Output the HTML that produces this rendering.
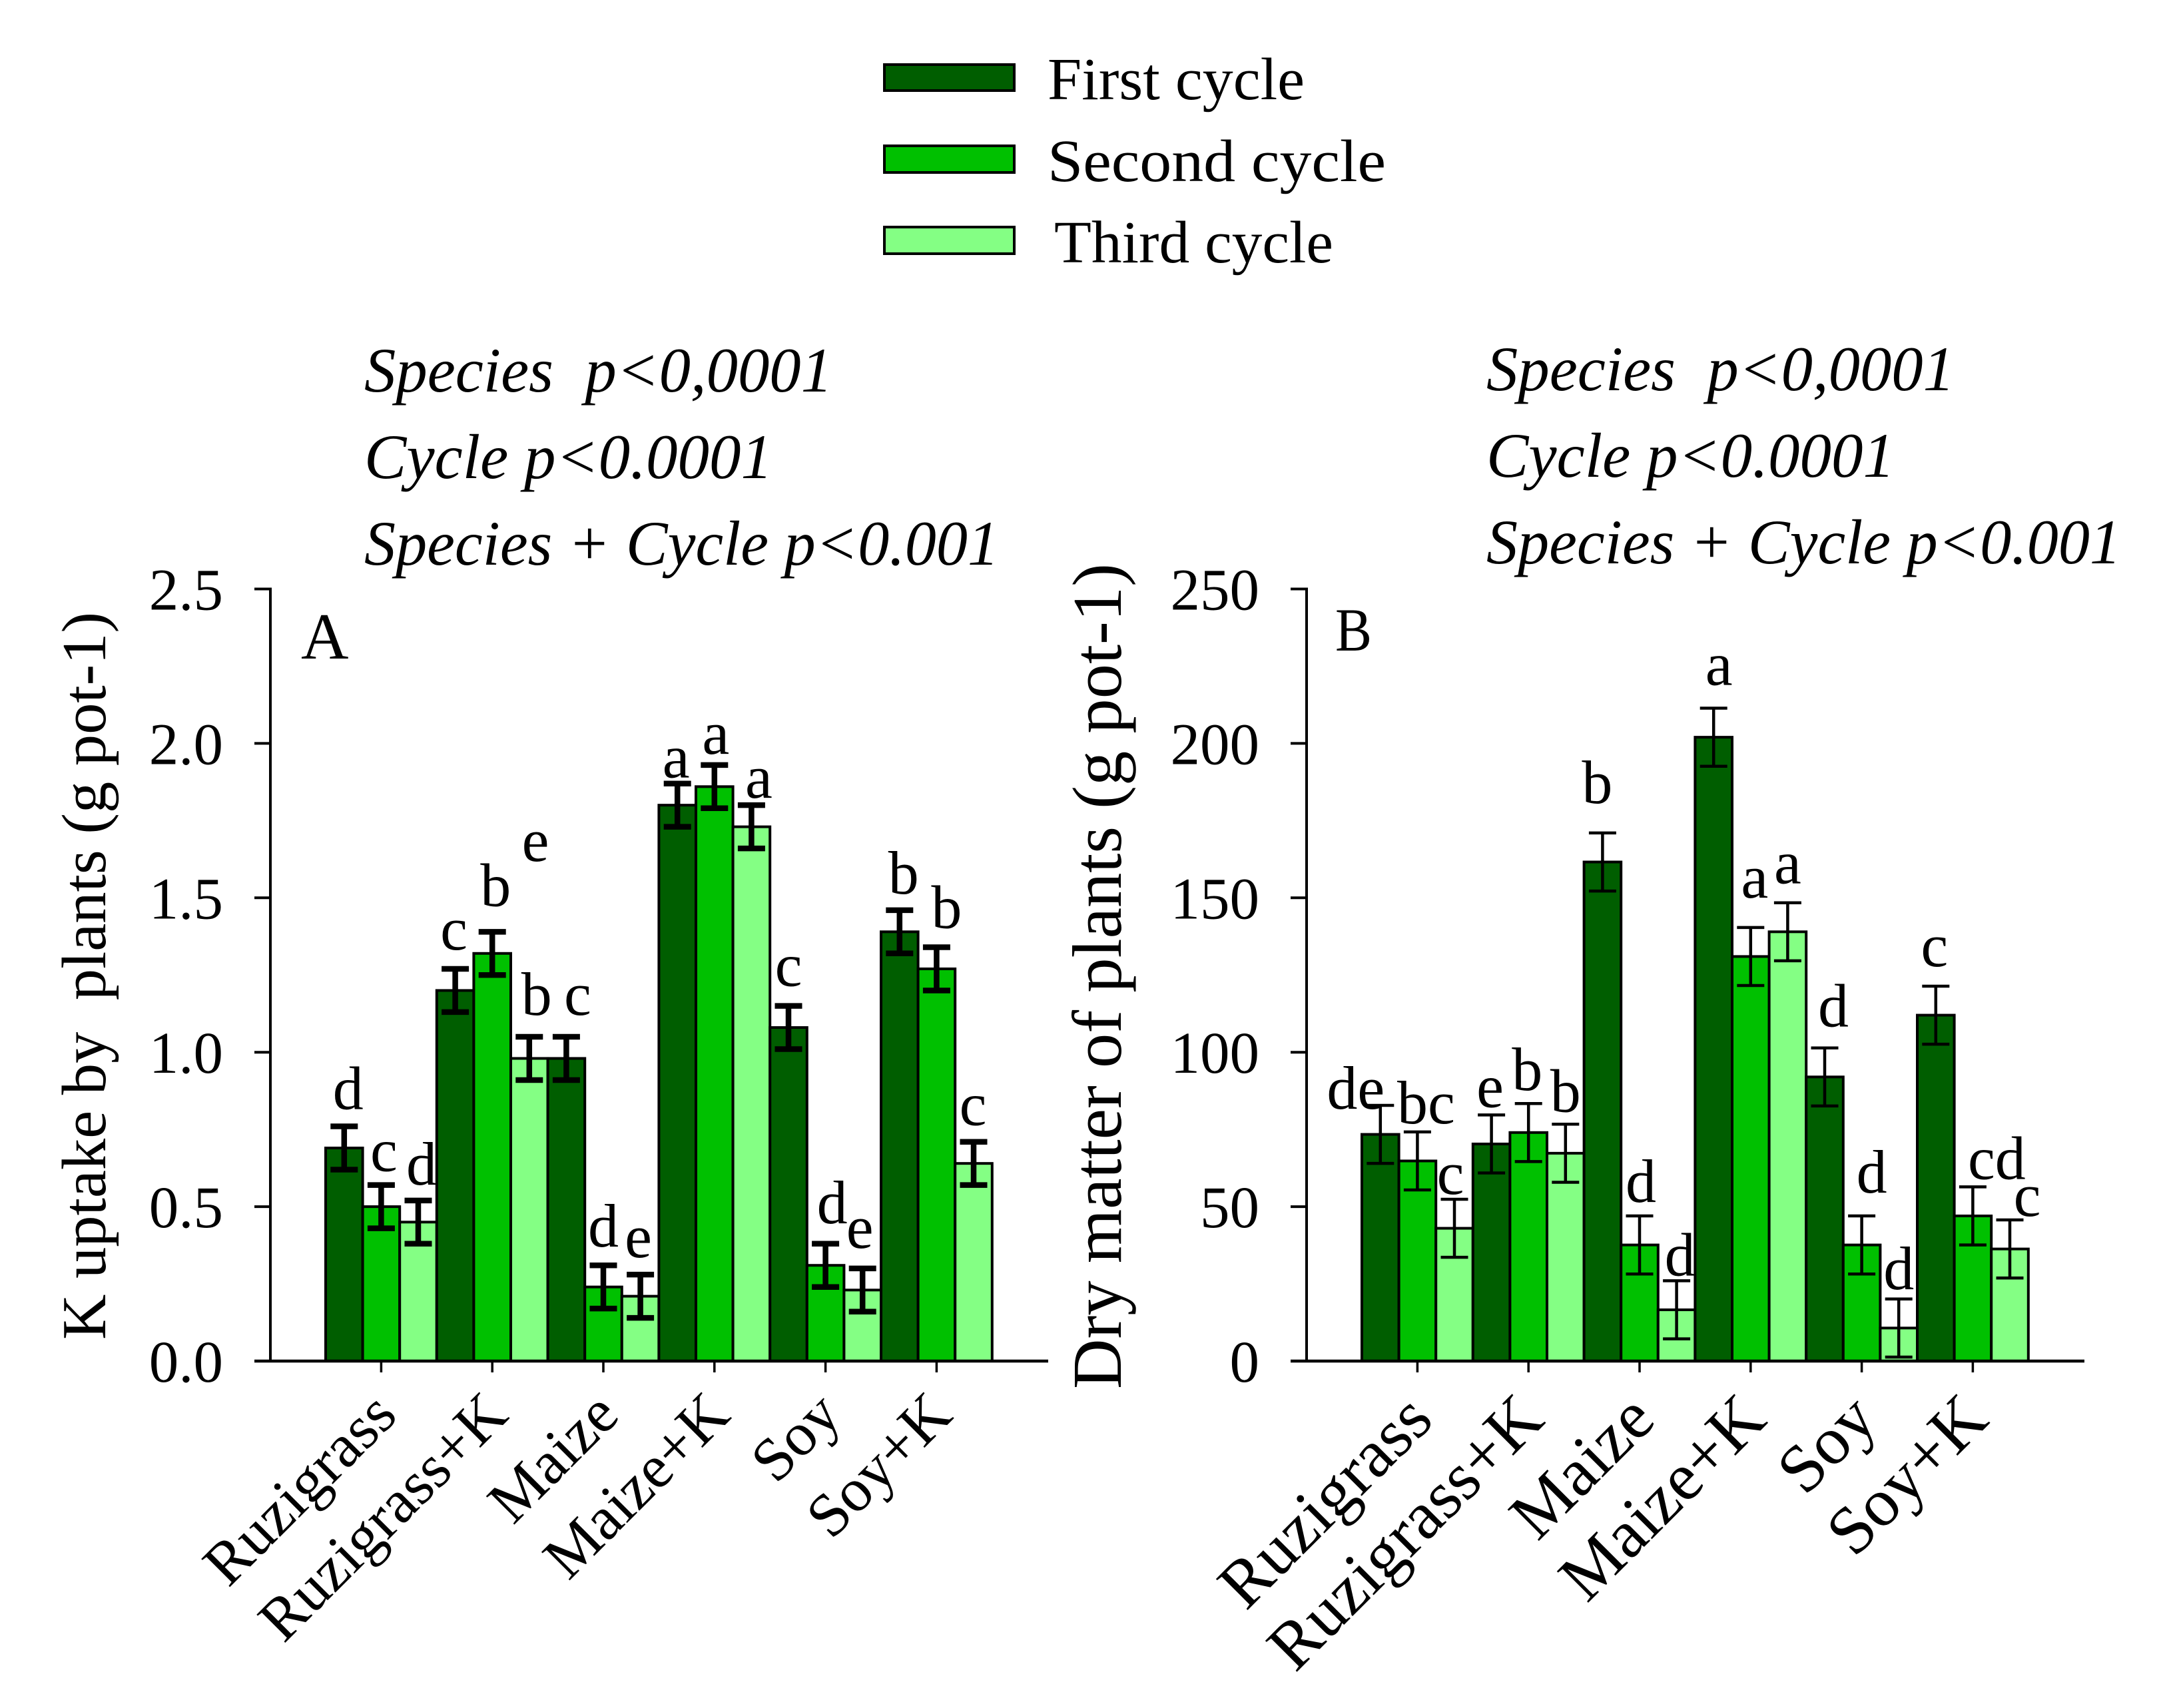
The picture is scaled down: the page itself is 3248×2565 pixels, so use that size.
<!DOCTYPE html>
<html lang="en">
<head>
<meta charset="utf-8">
<title>K uptake and dry matter by species and cycle</title>
<style>
html,body{margin:0;padding:0;background:#fff;}
svg{display:block;}
text{font-family:"Liberation Serif",serif;fill:#000;white-space:pre;}
.ital{font-style:italic;}
</style>
</head>
<body>
<svg id="chart" xmlns="http://www.w3.org/2000/svg" width="3248" height="2565" viewBox="0 0 3248 2565">
  <rect x="0" y="0" width="3248" height="2565" fill="#fff"/>

  <g>
    <rect x="1328" y="97" width="195" height="39" fill="#005e00" stroke="#000" stroke-width="4"/>
    <text x="1573" y="149" font-size="90" textLength="386" lengthAdjust="spacingAndGlyphs">First cycle</text>
    <rect x="1328" y="219" width="195" height="40" fill="#00c000" stroke="#000" stroke-width="4"/>
    <text x="1573" y="272" font-size="90" textLength="508" lengthAdjust="spacingAndGlyphs">Second cycle</text>
    <rect x="1328" y="341" width="195" height="40" fill="#84ff84" stroke="#000" stroke-width="4"/>
    <text x="1583" y="394" font-size="90" textLength="419" lengthAdjust="spacingAndGlyphs">Third cycle</text>
  </g>

  <g class="ital" font-size="95">
    <text x="547" y="588" textLength="703" lengthAdjust="spacingAndGlyphs">Species  p&lt;0,0001</text>
    <text x="547" y="718" textLength="613" lengthAdjust="spacingAndGlyphs">Cycle p&lt;0.0001</text>
    <text x="547" y="848" textLength="953" lengthAdjust="spacingAndGlyphs">Species + Cycle p&lt;0.001</text>
  </g>
  <g class="ital" font-size="95">
    <text x="2232" y="586" textLength="703" lengthAdjust="spacingAndGlyphs">Species  p&lt;0,0001</text>
    <text x="2232" y="716" textLength="613" lengthAdjust="spacingAndGlyphs">Cycle p&lt;0.0001</text>
    <text x="2232" y="846" textLength="953" lengthAdjust="spacingAndGlyphs">Species + Cycle p&lt;0.001</text>
  </g>

  <text transform="translate(158 2012) rotate(-90)" font-size="94" textLength="1093" lengthAdjust="spacingAndGlyphs">K uptake by  plants (g pot-1)</text>
  <text transform="translate(1683 2086) rotate(-90)" font-size="105" textLength="1240" lengthAdjust="spacingAndGlyphs">Dry matter of plants (g pot-1)</text>
  <text x="452" y="989" font-size="99">A</text>
  <text x="2005" y="977" font-size="92" textLength="55" lengthAdjust="spacingAndGlyphs">B</text>
  <text x="804" y="1293" font-size="92" text-anchor="middle">e</text>

  <g id="panel-a"></g>
  <g id="panel-b"></g>
</svg>

<script>
// Shared categories and series names
const categories = ['Ruzigrass', 'Ruzigrass+K', 'Maize', 'Maize+K', 'Soy', 'Soy+K'];
const seriesNames = ['first-cycle', 'second-cycle', 'third-cycle'];
const seriesColors = ['#005e00', '#00c000', '#84ff84'];

// Panel A: K uptake by plants (g pot-1)
const aTickLabels = ['0.0', '0.5', '1.0', '1.5', '2.0', '2.5'];
const aFirst = [0.69, 1.20, 0.98, 1.80, 1.08, 1.39];
const aSecond = [0.50, 1.32, 0.24, 1.86, 0.31, 1.27];
const aThird = [0.45, 0.98, 0.21, 1.73, 0.23, 0.64];
const aErrFirst = [0.07, 0.07, 0.07, 0.07, 0.07, 0.07];
const aErrSecond = [0.07, 0.07, 0.07, 0.07, 0.07, 0.07];
const aErrThird = [0.07, 0.07, 0.07, 0.07, 0.07, 0.07];
const aLetters = ['d', 'c', 'd', 'c', 'b', 'b', 'c', 'd', 'e', 'a', 'a', 'a', 'c', 'd', 'e', 'b', 'b', 'c'];

// Panel B: Dry matter of plants (g pot-1)
const bTickLabels = ['0', '50', '100', '150', '200', '250'];
const bFirst = [73.4, 70.3, 161.6, 202, 92, 112];
const bSecond = [64.8, 74, 37.6, 131, 37.6, 47];
const bThird = [43, 67.3, 16.6, 139, 10.7, 36.3];
const bErrFirst = [9.4, 9.4, 9.4, 9.4, 9.4, 9.4];
const bErrSecond = [9.4, 9.4, 9.4, 9.4, 9.4, 9.4];
const bErrThird = [9.4, 9.4, 9.4, 9.4, 9.4, 9.4];
const bLetters = ['de', 'bc', 'c', 'e', 'b', 'b', 'b', 'd', 'd', 'a', 'a', 'a', 'd', 'd', 'd', 'c', 'cd', 'c'];

// Annotation layout: nudges of each significance letter from its error-bar top
const aLetterDx = [6, 4, 5, -2, 5, 11, 17, 0, -3, -2, 2, 11, 0, 10, -4, 6, 15, -1];
const aLetterGap = [26, 21, 24, 29, 39, 33, 33, 28, 26, 9, 17, 11, 30, 31, 31, 25, 29, 25];
const bLetterDx = [-37, 13, -6, -2, -2, 0, -8, 2, 5, 8, 6, 0, 13, 15, 0, -2, 36, 26];
const bLetterGap = [-5, 13, 8, 12, 20, 19, 45, 21, 8, 35, 45, 29, 32, 35, 15, 30, 12, 6];

const SVG_NS = 'http://www.w3.org/2000/svg';

function make(parent, tag, attrs, content) {
  const node = document.createElementNS(SVG_NS, tag);
  for (const key in attrs) node.setAttribute(key, attrs[key]);
  if (content !== undefined) node.textContent = content;
  parent.appendChild(node);
  return node;
}

function drawPanel(cfg) {
  const root = document.getElementById(cfg.id);
  const maxValue = parseFloat(cfg.tickLabels[cfg.tickLabels.length - 1]);
  const baseY = 2044;
  const plotH = 1159.5;
  const barStep = 55.6;
  const groupStep = barStep * 3;
  const yScale = function (v) { return baseY - (v / maxValue) * plotH; };
  const barLeft = function (cat, s) { return cfg.barsX + groupStep * cat + barStep * s; };
  const barCenter = function (cat, s) { return barLeft(cat, s) + barStep / 2; };
  const catCenter = function (cat) { return barCenter(cat, 1); };

  // Bars
  for (let c = 0; c < categories.length; c++) {
    for (let s = 0; s < cfg.series.length; s++) {
      const value = cfg.series[s][c];
      const bar = make(root, 'rect', {
        x: barLeft(c, s), y: yScale(value), width: barStep, height: baseY - yScale(value),
        fill: seriesColors[s], stroke: '#000', 'stroke-width': 4
      });
      
      
    }
  }

  // Error bars and significance letters
  for (let c = 0; c < categories.length; c++) {
    for (let s = 0; s < cfg.series.length; s++) {
      const value = cfg.series[s][c];
      const err = cfg.errors[s][c];
      const cx = barCenter(c, s);
      const top = yScale(value + err);
      const bottom = yScale(value - err);
      const eb = make(root, 'path', {
        d: 'M' + (cx - 20.5) + ' ' + top + 'H' + (cx + 20.5) +
           'M' + cx + ' ' + top + 'V' + bottom +
           'M' + (cx - 20.5) + ' ' + bottom + 'H' + (cx + 20.5),
        fill: 'none', stroke: '#000', 'stroke-width': cfg.errWidth
      });
      
      
    }
  }
  for (let c = 0; c < categories.length; c++) {
    for (let s = 0; s < cfg.series.length; s++) {
      const i = c * 3 + s;
      const top = yScale(cfg.series[s][c] + cfg.errors[s][c]);
      const letter = make(root, 'text', {
        x: barCenter(c, s) + cfg.letterDx[i], y: top - cfg.letterGap[i],
        'font-size': 92, 'text-anchor': 'middle'
      }, cfg.letters[i]);
      
      
    }
  }

  // Axes
  const yAxis = make(root, 'line', {
    x1: cfg.axisX, x2: cfg.axisX, y1: yScale(maxValue) - 2, y2: baseY + 2, stroke: '#000', 'stroke-width': 4
  });
  
  

  const xAxis = make(root, 'line', {
    x1: cfg.axisX - 24, x2: cfg.axisEnd, y1: baseY, y2: baseY, stroke: '#000', 'stroke-width': 4.5
  });
  
  

  // Y ticks
  cfg.tickLabels.forEach(function (label) {
    const v = parseFloat(label);
    const tick = make(root, 'line', {
      x1: cfg.axisX - 24, x2: cfg.axisX, y1: yScale(v), y2: yScale(v), stroke: '#000', 'stroke-width': 4
    });
    
    
    const tl = make(root, 'text', {
      x: cfg.tickTextX, y: yScale(v) + 31, 'font-size': 89, 'text-anchor': 'end'
    }, label);
    
    
  });

  // X ticks and category labels
  categories.forEach(function (name, c) {
    const tx = catCenter(c);
    const tick = make(root, 'line', {
      x1: tx, x2: tx, y1: baseY + 2, y2: baseY + 17, stroke: '#000', 'stroke-width': 3.5
    });
    
    
    const lx = tx + cfg.catDx;
    const label = make(root, 'text', {
      transform: 'translate(' + lx + ' ' + cfg.catY + ') rotate(-45)',
      'font-size': cfg.catFont, 'text-anchor': 'end'
    }, name);
    
    
  });
}

drawPanel({
  id: 'panel-a', tickLabels: aTickLabels,
  series: [aFirst, aSecond, aThird], errors: [aErrFirst, aErrSecond, aErrThird],
  letters: aLetters, letterDx: aLetterDx, letterGap: aLetterGap,
  barsX: 489, axisX: 406, axisEnd: 1574, tickTextX: 335, errWidth: 8.5,
  catDx: 27, catY: 2129, catFont: 92
});

drawPanel({
  id: 'panel-b', tickLabels: bTickLabels,
  series: [bFirst, bSecond, bThird], errors: [bErrFirst, bErrSecond, bErrThird],
  letters: bLetters, letterDx: bLetterDx, letterGap: bLetterGap,
  barsX: 2045, axisX: 1962, axisEnd: 3130, tickTextX: 1891, errWidth: 4.5,
  catDx: 27, catY: 2136, catFont: 102
});
</script>
</body>
</html>
